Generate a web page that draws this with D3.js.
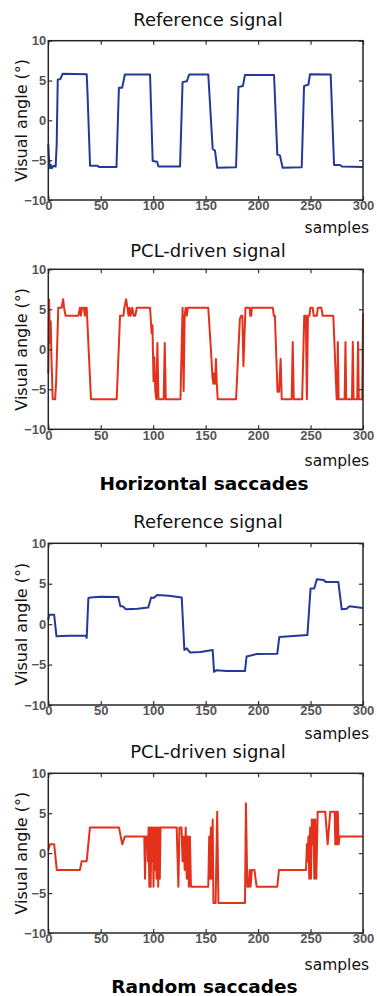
<!DOCTYPE html>
<html>
<head>
<meta charset="utf-8">
<script src="https://cdn.jsdelivr.net/npm/d3@7"></script>
<style>
  body { margin: 0; background: #fff; }
  svg { display: block; }
</style>
</head>
<body>
<svg id="chart" width="377" height="996"></svg>
<script>
// Ticks shared by all four panels
const xTicks = [0, 50, 100, 150, 200, 250, 300];
const yTicks = [-10, -5, 0, 5, 10];

// Horizontal saccades - reference signal [sample, visual angle]
const horizRef = [
  [0, -3.0], [0.5, -4.5], [1.5, -6.0], [2.5, -5.6], [3.5, -6.0], [5, -5.7], [7, -5.8], [8, -3],
  [9, 5.1], [11.6, 5.2], [13.6, 5.85], [36.6, 5.8], [37.5, 3], [39.8, -5.7], [47, -5.7], [48, -5.85],
  [65, -5.85], [67.3, 4.1], [70.4, 4.1], [73, 5.75], [97, 5.75], [99.5, -5.1], [103.7, -5.2], [105, -5.8],
  [125.6, -5.8], [128, 4.8], [132, 4.9], [134.3, 5.75], [152.5, 5.75], [156.7, -3.6], [158.9, -3.8],
  [161, -5.95], [179, -5.9], [181.3, 4.2], [185.5, 4.3], [187.5, 5.7], [215.2, 5.7], [218.3, -4.3],
  [220.8, -4.4], [223.4, -5.95], [241.6, -5.9], [243.8, 4.3], [248, 4.5], [249.5, 5.8], [269.2, 5.75],
  [272.4, -5.6], [278, -5.6], [280, -5.8], [300, -5.85]
];

// Horizontal saccades - PCL-driven signal
const horizPcl = [
  [0, -3], [0.8, 6.2], [1.6, 0.8], [2.3, 3.5], [3, -1], [4.2, -6.25], [6.5, -6.25], [7.5, -4], [9.5, 5.2],
  [12.7, 5.2], [14.2, 6.25], [15, 5.2], [16.5, 4.2], [28.6, 4.2], [30.2, 5.2], [31, 4.2], [32.2, 5.2],
  [34, 5.2], [34.8, 4.2], [35.6, 5.2], [36.6, 5.2], [40.7, -6.25], [65.2, -6.25], [68.4, 4.2], [71.6, 4.2],
  [72.5, 5.2], [74.2, 6.25], [75.4, 5.2], [76.5, 4.2], [77.5, 5.2], [78.5, 4.2], [80, 5.2], [81.5, 4.2],
  [83, 4.2], [84.3, 5.2], [97, 5.2], [98.5, 2], [99.3, 3], [100.3, -4], [101, -1], [102, -5.2],
  [103, -6.25], [104, 0.8], [105, -6.25], [110, -6.25], [111, 0.8], [112, -6.25], [126, -6.25], [128, 5.2],
  [129, -5.2], [130, 4.2], [131, 5.2], [132, 4.2], [133, 5.2], [152.5, 5.2], [155, 0], [156.5, -3.5],
  [157.3, -4.3], [158, -3], [159, -4.3], [159.8, -1.2], [160.5, -4], [161.5, -6.25], [179, -6.25],
  [182.6, 3.8], [184, 4.2], [185, 4.2], [186, -2.1], [188, 5.2], [192, 5.2], [192.5, 4.2], [193.5, 4.2],
  [194, 5.2], [214, 5.2], [215, 4.2], [216, 4.2], [218.5, -5.3], [220, -5.3], [221.5, -1.2],
  [222.5, -6.25], [232, -6.25], [233, 0.9], [234, -6.25], [242, -6.25], [244, 4.2], [245.5, 4.2],
  [246.5, -6.25], [247.5, 4.2], [249, 4.2], [249.8, 5.2], [252, 5.2], [253, 4.2], [256, 4.2], [257, 5.2],
  [260.3, 5.2], [261.5, 4.2], [271.7, 4.2], [274.9, -6.25], [275.5, -6.25], [276, 0.9], [276.8, -6.25],
  [282.5, -6.25], [283.3, 0.9], [284, -6.25], [289.5, -6.25], [290.3, 0.9], [291, -6.25], [294.5, -6.25],
  [295.3, 0.9], [296, -6.25], [299.2, -6.25], [300, 4.5]
];

// Random saccades - reference signal
const randRef = [
  [0, 0.5], [0.7, 1.15], [5.6, 1.15], [7.8, -1.5], [20, -1.45], [36, -1.45], [36.6, -1.7], [38.2, 3.2],
  [40, 3.3], [50, 3.4], [66.7, 3.35], [68.7, 2.2], [71, 2.2], [74, 1.85], [85, 1.9], [95.3, 2.05],
  [98, 3.3], [100.5, 3.25], [103.7, 3.6], [115, 3.5], [127.2, 3.3], [129.7, -3.2], [132, -3.0],
  [135, -3.5], [145, -3.45], [156.7, -3.2], [158, -5.9], [160, -5.7], [170, -5.8], [187.5, -5.8],
  [189, -4.0], [198.6, -3.7], [218.3, -3.65], [220.2, -1.6], [247, -1.35], [250, 4.4], [253.5, 4.4],
  [256, 5.55], [262.4, 5.45], [265, 5.2], [276.5, 5.2], [279.7, 1.85], [284.4, 1.9], [287, 2.2], [300, 2.0]
];

// Random saccades - PCL-driven signal
const randPcl = [
  [0, 0.4], [1.6, 1.1], [5.6, 1.1], [8.1, -2.1], [30.2, -2.1], [31.8, -1.0], [36.6, -1.0], [39.7, 3.2],
  [67.4, 3.2], [70.5, 1.1], [73, 2.1], [91.5, 2.1], [92.2, -3.2], [93, 2.1], [94.4, 2.1], [95, -1],
  [95.6, 3.2], [96.3, -4.2], [97, 3.2], [97.6, -4.2], [98.3, 3.2], [99, -1], [99.6, 3.2], [100.3, -4.2],
  [101, 3.2], [101.8, -2.1], [102.5, 3.2], [103.2, -3.2], [104, 3.2], [104.8, -4.2], [105.6, 3.2],
  [106.3, -3.2], [107, 3.2], [122.4, 3.2], [124, -4.2], [125, 3.2], [127, 3.2], [128, -1], [129, 2.1],
  [130, -2.1], [131, 3.2], [132, -3.2], [133, 2.1], [134, -4.2], [135, 2.1], [136, -4.2], [152.5, -4.2],
  [153.4, 2.1], [154.2, -3.2], [155, 3.2], [155.8, -3.2], [156.7, 4.2], [157.4, -6.25], [159.5, -6.25],
  [161, 5.2], [162.2, -6.25], [187.5, -6.25], [188.4, 6.25], [189.7, -4.2], [191, -4.2], [192, -2.1],
  [192.8, -4.2], [194, -2.1], [196.5, -2.1], [198.6, -4.2], [218.3, -4.2], [219.9, -2.1], [245.7, -2.1],
  [246.5, 1.1], [247.2, -1], [248, 2.1], [248.8, -3.2], [249.6, 3.2], [250.4, -3.2], [251.2, 4.2],
  [252, 1.1], [252.8, 4.2], [253.6, -3.2], [254.5, 4.2], [255.5, -3.2], [256.8, 5.2], [264, 5.2],
  [266.3, 1.1], [268.8, 5.2], [273, 5.2], [273.6, 1.1], [274.4, 5.2], [275.2, 1.1], [276, 5.2],
  [276.8, 1.1], [277.8, 2.1], [300, 2.1]
];

const svg = d3.select('#chart');
const blue = '#22399b';
const red = '#e3311c';
const textFont = '"DejaVu Sans", Verdana, sans-serif';

// Panel layout (pixels)
const panels = [
  { data: horizRef, color: blue, title: 'Reference signal', top: 40.7, bottom: 200, titleY: 26, samplesY: 233 },
  { data: horizPcl, color: red, title: 'PCL-driven signal', top: 269.3, bottom: 429.3, titleY: 256.5, samplesY: 466 },
  { data: randRef, color: blue, title: 'Reference signal', top: 543.3, bottom: 705, titleY: 528.3, samplesY: 739.3 },
  { data: randPcl, color: red, title: 'PCL-driven signal', top: 773.3, bottom: 933, titleY: 758.3, samplesY: 970 },
];
const left = 48.3;
const right = 363;

function draw_panel(p) {
  const x = d3.scaleLinear().domain([0, 300]).range([left, right]);
  const y = d3.scaleLinear().domain([-10, 10]).range([p.bottom, p.top]);
  const g = svg.append('g');

  // data line
  const line = d3.line().x(d => x(d[0])).y(d => y(d[1]));
  g.append('path')
    .datum(p.data)
    .attr('d', line)
    .attr('fill', 'none')
    .attr('stroke', p.color)
    .attr('stroke-width', 2)
    .attr('stroke-linejoin', 'round');

  // axes with inward ticks on all sides
  const styleAxis = sel => {
    sel.select('.domain').remove();
    sel.selectAll('line').attr('stroke', '#333').attr('stroke-width', 1.2);
    sel.selectAll('text')
      .attr('fill', '#555')
      .attr('font-family', '"Liberation Sans", Arial, sans-serif')
      .attr('font-weight', 'bold')
      .attr('font-size', 13);
  };
  g.append('g').attr('transform', `translate(0,${p.bottom})`)
    .call(d3.axisBottom(x).tickValues(xTicks).tickSizeInner(-4).tickSizeOuter(0).tickPadding(1))
    .call(styleAxis);
  g.append('g').attr('transform', `translate(0,${p.top})`)
    .call(d3.axisTop(x).tickValues(xTicks).tickSizeInner(-4).tickSizeOuter(0).tickFormat(''))
    .call(styleAxis);
  g.append('g').attr('transform', `translate(${left},0)`)
    .call(d3.axisLeft(y).tickValues(yTicks).tickSizeInner(-4).tickSizeOuter(0).tickPadding(2))
    .call(styleAxis);
  g.append('g').attr('transform', `translate(${right},0)`)
    .call(d3.axisRight(y).tickValues(yTicks).tickSizeInner(-4).tickSizeOuter(0).tickFormat(''))
    .call(styleAxis);

  // frame
  g.append('rect')
    .attr('x', left).attr('y', p.top)
    .attr('width', right - left).attr('height', p.bottom - p.top)
    .attr('fill', 'none').attr('stroke', '#262626').attr('stroke-width', 1.5);

  // labels
  g.append('text')
    .attr('x', 208).attr('y', p.titleY)
    .attr('text-anchor', 'middle')
    .attr('font-family', textFont).attr('font-size', 18).attr('fill', '#111')
    .text(p.title);
  g.append('text')
    .attr('x', 369).attr('y', p.samplesY)
    .attr('text-anchor', 'end')
    .attr('font-family', textFont).attr('font-size', 15.5).attr('fill', '#111')
    .text('samples');
  g.append('text')
    .attr('transform', `translate(27,${(p.top + p.bottom) / 2}) rotate(-90)`)
    .attr('text-anchor', 'middle')
    .attr('font-family', textFont).attr('font-size', 16).attr('fill', '#111')
    .text('Visual angle (°)');
}

panels.forEach(draw_panel);

// group captions
svg.append('text')
  .attr('x', 204).attr('y', 490)
  .attr('text-anchor', 'middle')
  .attr('font-family', textFont).attr('font-weight', 'bold').attr('font-size', 18.5).attr('fill', '#000')
  .text('Horizontal saccades');
svg.append('text')
  .attr('x', 204.5).attr('y', 993)
  .attr('text-anchor', 'middle')
  .attr('font-family', textFont).attr('font-weight', 'bold').attr('font-size', 18.5).attr('fill', '#000')
  .text('Random saccades');
</script>
</body>
</html>
